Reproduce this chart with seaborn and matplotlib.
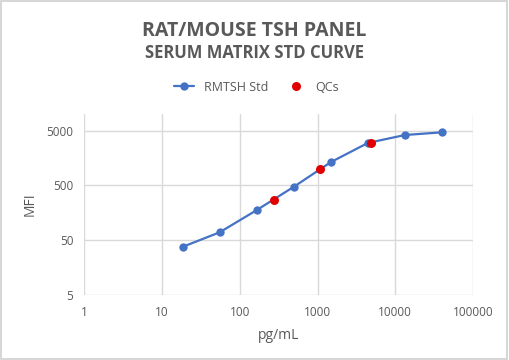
import matplotlib
matplotlib.use("Agg")
import matplotlib.pyplot as plt
import seaborn as sns
import pandas as pd
from matplotlib.ticker import FixedLocator, NullLocator, FixedFormatter
from matplotlib.lines import Line2D
from matplotlib.patches import Rectangle

# standard curve (3-fold dilutions) and QC samples
std_conc = [18.3, 54.9, 165, 494, 1481, 4444, 13333, 40000]
std_mfi = [38, 70, 178, 472, 1330, 2980, 4160, 4660]
qc_conc = [277, 1074, 4870]
qc_mfi = [267, 990, 3015]

x_ticks = [1, 10, 100, 1000, 10000, 100000]
y_ticks = [5, 50, 500, 5000]

sns.set_theme(style="white")
plt.rcParams['font.family'] = ['Open Sans', 'DejaVu Sans']
text_col = '#595959'
grid_col = '#D9D9D9'
blue = '#4472C4'
red = '#E00000'

fig = plt.figure(figsize=(5.09, 3.6), dpi=100)
ax = fig.add_axes([0.166, 0.18, 0.763, 0.503])

std = pd.DataFrame({'conc': std_conc, 'mfi': std_mfi})
qc = pd.DataFrame({'conc': qc_conc, 'mfi': qc_mfi})

sns.lineplot(data=std, x='conc', y='mfi', color=blue, linewidth=1.6,
             marker='o', markersize=6, markeredgewidth=0, ax=ax, zorder=3)
sns.scatterplot(data=qc, x='conc', y='mfi', color=red, s=42, linewidth=0, ax=ax, zorder=4)

ax.set_xscale('log')
ax.set_yscale('log')
ax.set_xlim(1, 100000)
ax.set_ylim(5, 10000)
ax.xaxis.set_major_locator(FixedLocator(x_ticks))
ax.xaxis.set_major_formatter(FixedFormatter([str(v) for v in x_ticks]))
ax.yaxis.set_major_locator(FixedLocator(y_ticks))
ax.yaxis.set_major_formatter(FixedFormatter([str(v) for v in y_ticks]))
ax.xaxis.set_minor_locator(NullLocator())
ax.yaxis.set_minor_locator(NullLocator())
ax.grid(True, color=grid_col, linewidth=1)
ax.set_axisbelow(True)
for s in ax.spines.values():
    s.set_visible(False)
ax.tick_params(length=0, labelsize=8.5, labelcolor=text_col, pad=8)
ax.set_xlabel('pg/mL', fontsize=10, color=text_col, labelpad=6)
ax.set_ylabel('MFI', fontsize=10, color=text_col, labelpad=6)

fig.text(0.5, 0.914, 'RAT/MOUSE TSH PANEL', ha='center', va='center',
         fontsize=14, fontweight='bold', color=text_col)
fig.text(0.5, 0.852, 'SERUM MATRIX STD CURVE', ha='center', va='center',
         fontsize=12, fontweight='bold', color=text_col)

handles = [Line2D([], [], color=blue, linewidth=1.6, marker='o', markersize=6, markeredgewidth=0),
           Line2D([], [], color=red, linestyle='none', marker='o', markersize=6.5, markeredgewidth=0)]
fig.legend(handles, ['RMTSH Std', 'QCs'], loc='center', bbox_to_anchor=(0.504, 0.758),
           ncol=2, frameon=False, fontsize=9, labelcolor=text_col,
           handlelength=1.6, columnspacing=1.4, handletextpad=0.75)

fig.add_artist(Rectangle((0.002, 0.003), 0.995, 0.994, transform=fig.transFigure,
                         fill=False, edgecolor='#D0D0D0', linewidth=1.2))

fig.savefig('out.png', dpi=100)
